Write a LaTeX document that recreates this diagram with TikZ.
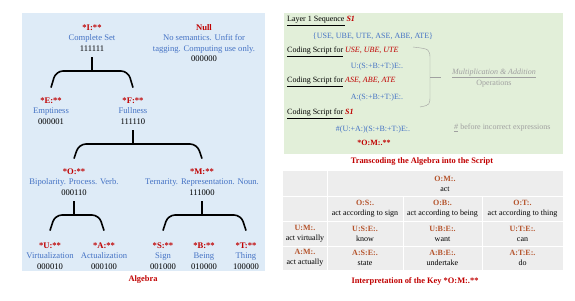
\documentclass[tikz,border=0pt]{standalone}
\usepackage{fontspec}
\setmainfont{Liberation Serif}
\usepackage{xcolor}
\usetikzlibrary{calc}
\definecolor{keyred}{HTML}{C00000}
\definecolor{keyblue}{HTML}{4472C4}
\definecolor{keybrown}{HTML}{B5532B}
\definecolor{panelblue}{HTML}{DEEBF7}
\definecolor{panelgreen}{HTML}{E2EFD9}
\definecolor{cellgrey}{HTML}{EDEDED}
\definecolor{notegrey}{HTML}{A0A0A0}

\begin{document}
\begin{tikzpicture}[x=1pt, y=-1pt, every node/.style={inner sep=1pt, font=\fontsize{8}{10}\selectfont},
    key/.style={align=center, text=keyblue, font=\fontsize{8.6}{10.4}\selectfont},
    brace/.style={line width=1.6pt, rounded corners=7pt},
    caption/.style={text=keyred, font=\fontsize{8.4}{10}\selectfont\bfseries},
    cell/.style={align=center}]
  \useasboundingbox (0,0) rectangle (575,300);

  % algebra tree
  \fill[panelblue] (22,13) rectangle (265,271);
  \node[key] (I) at (92,38) {\textcolor{keyred}{\textbf{*I:**}}\\Complete Set\\\textcolor{black}{111111}};
  \node[key] (null) at (204,43) {\textcolor{keyred}{\textbf{Null}}\\No semantics. Unfit for\\tagging. Computing use only.\\\textcolor{black}{000000}};
  \node[key] (E) at (51,111) {\textcolor{keyred}{\textbf{*E:**}}\\Emptiness\\\textcolor{black}{000001}};
  \node[key] (F) at (133,111) {\textcolor{keyred}{\textbf{*F:**}}\\Fullness\\\textcolor{black}{111110}};
  \node[key] (O) at (74,182) {\textcolor{keyred}{\textbf{*O:**}}\\Bipolarity. Process. Verb.\\\textcolor{black}{000110}};
  \node[key] (M) at (202,182) {\textcolor{keyred}{\textbf{*M:**}}\\Ternarity. Representation. Noun.\\\textcolor{black}{111000}};
  \node[key] (U) at (50,256) {\textcolor{keyred}{\textbf{*U:**}}\\Virtualization\\\textcolor{black}{000010}};
  \node[key] (A) at (104,256) {\textcolor{keyred}{\textbf{*A:**}}\\Actualization\\\textcolor{black}{000100}};
  \node[key] (S) at (163,256) {\textcolor{keyred}{\textbf{*S:**}}\\Sign\\\textcolor{black}{001000}};
  \node[key] (B) at (204,256) {\textcolor{keyred}{\textbf{*B:**}}\\Being\\\textcolor{black}{010000}};
  \node[key] (T) at (246,256) {\textcolor{keyred}{\textbf{*T:**}}\\Thing\\\textcolor{black}{100000}};

  \coordinate (barI) at (92,71);
  \coordinate (barF) at (133,144);
  \coordinate (barO) at (74,215);
  \coordinate (barM) at (202,215);
  \draw[brace] ([yshift=-5pt]I.south) -- (barI);
  \draw[brace] ([yshift=9pt]E.north) -- ($(E.north |- barI)+(5,0)$) -- ($(F.north |- barI)+(-5,0)$) -- ([yshift=9pt]F.north);
  \draw[brace] ([yshift=-5pt]F.south) -- (barF);
  \draw[brace] ([yshift=9pt]O.north) -- ($(O.north |- barF)+(5,0)$) -- ($(M.north |- barF)+(-5,0)$) -- ([yshift=9pt]M.north);
  \draw[brace] ([yshift=-5pt]O.south) -- (barO);
  \draw[brace] ([yshift=11pt]U.north) -- ($(U.north |- barO)+(5,0)$) -- ($(A.north |- barO)+(-5,0)$) -- ([yshift=11pt]A.north);
  \draw[brace] ([yshift=-5pt]M.south) -- (barM);
  \draw[brace] ([yshift=11pt]S.north) -- ($(S.north |- barM)+(5,0)$) -- ($(T.north |- barM)+(-5,0)$) -- ([yshift=11pt]T.north);
  \node[caption] (algcap) at (143,280) {Algebra};

  % transcoding
  \fill[panelgreen] (284,13) rectangle (563,154);
  \node[anchor=west] (seq) at (286,21) {\underline{Layer 1 Sequence} \textcolor{keyred}{\textbf{\textit{S1}}}};
  \node[text=keyblue] (set) at (373,36) {\{USE, UBE, UTE, ASE, ABE, ATE\}};
  \node[anchor=west] (codeu) at (286,52) {\underline{Coding Script for} \textcolor{keyred}{\textit{USE, UBE, UTE}}};
  \node[text=keyblue] (scru) at (377,67) {U:(S:+B:+T:)E:.};
  \node[anchor=west] (codea) at (286,82) {\underline{Coding Script for} \textcolor{keyred}{\textit{ASE, ABE, ATE}}};
  \node[text=keyblue] (scra) at (377,98) {A:(S:+B:+T:)E:.};
  \node[anchor=west] (codes) at (286,114) {\underline{Coding Script for} \textcolor{keyred}{\textbf{\textit{S1}}}};
  \node[text=keyblue] (scrs) at (373,130) {\#(U:+A:)(S:+B:+T:)E:.};
  \node[text=keyred, font=\fontsize{8}{10}\selectfont\bfseries] (om) at (374,143) {*O:M:.**};
  \draw[notegrey, thin] (413,47) .. controls (430,49) .. (430,60) -- (430,95) .. controls (430,105) .. (420,107);
  \draw[notegrey, thin] (430,77) -- (441,77);
  \node[text=notegrey, align=center] (ops) at (494,78) {\underline{\textit{Multiplication \& Addition}}\\[1.5pt]Operations};
  \node[text=notegrey, anchor=west] (note) at (453,128) {\underline{\textit{\#}} before incorrect expressions};
  \node[caption] (txcap) at (422,162) {Transcoding the Algebra into the Script};

  % interpretation table
  \fill[cellgrey] (283,171) rectangle (563,270);
  \draw[white, line width=1pt] (327,171) -- (327,270);
  \draw[white, line width=1pt] (403,196) -- (403,270);
  \draw[white, line width=1pt] (482,196) -- (482,270);
  \draw[white, line width=1pt] (283,196) -- (563,196);
  \draw[white, line width=1pt] (283,221) -- (563,221);
  \draw[white, line width=1pt] (283,246) -- (563,246);
  \node[cell] (om0) at (445,184) {\textcolor{keybrown}{\textbf{O:M:.}}\\act};
  \node[cell] (os) at (365,209) {\textcolor{keybrown}{\textbf{O:S:.}}\\act according to sign};
  \node[cell] (ob) at (442.5,209) {\textcolor{keybrown}{\textbf{O:B:.}}\\act according to being};
  \node[cell] (ot) at (522.5,209) {\textcolor{keybrown}{\textbf{O:T:.}}\\act according to thing};
  \node[cell] (um) at (305,234) {\textcolor{keybrown}{\textbf{U:M:.}}\\act virtually};
  \node[cell] (use) at (365,234) {\textcolor{keybrown}{\textbf{U:S:E:.}}\\know};
  \node[cell] (ube) at (442.5,234) {\textcolor{keybrown}{\textbf{U:B:E:.}}\\want};
  \node[cell] (ute) at (522.5,234) {\textcolor{keybrown}{\textbf{U:T:E:.}}\\can};
  \node[cell] (am) at (305,258) {\textcolor{keybrown}{\textbf{A:M:.}}\\act actually};
  \node[cell] (ase) at (365,258) {\textcolor{keybrown}{\textbf{A:S:E:.}}\\state};
  \node[cell] (abe) at (442.5,258) {\textcolor{keybrown}{\textbf{A:B:E:.}}\\undertake};
  \node[cell] (ate) at (522.5,258) {\textcolor{keybrown}{\textbf{A:T:E:.}}\\do};
  \node[caption] (tblcap) at (415,281) {Interpretation of the Key *O:M:.**};
\end{tikzpicture}
\end{document}
